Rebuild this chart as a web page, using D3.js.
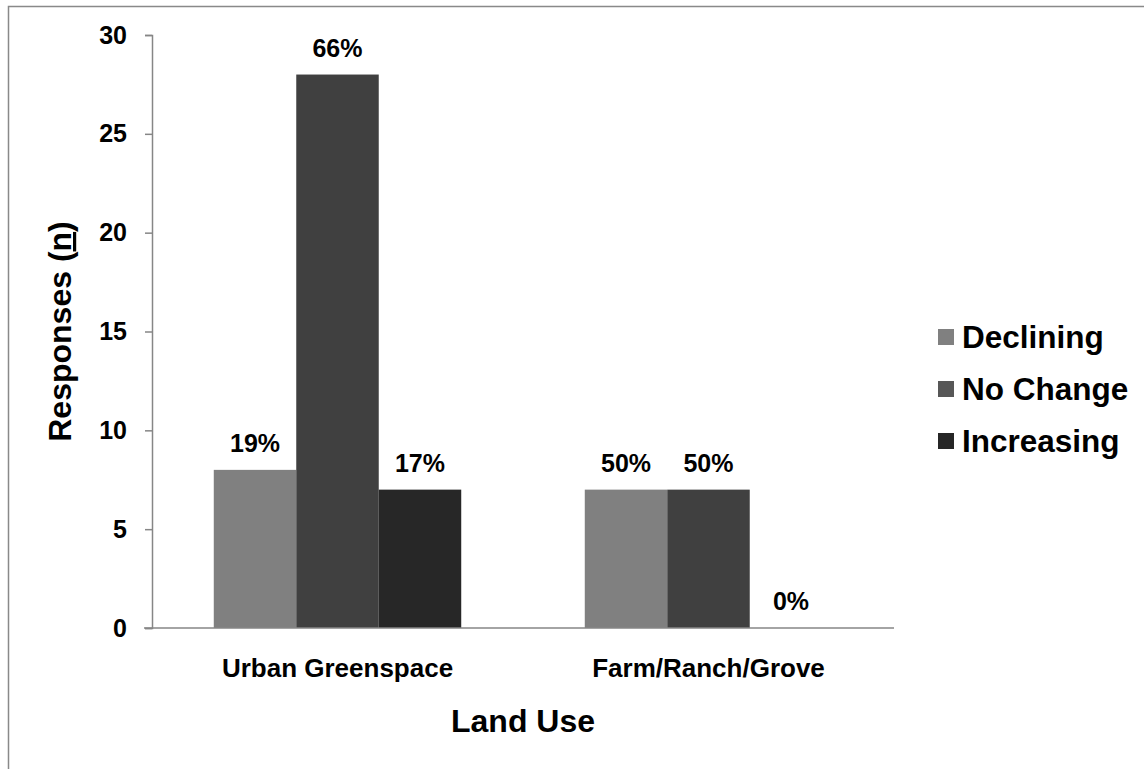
<!DOCTYPE html>
<html>
<head>
<meta charset="utf-8">
<script src="https://cdn.jsdelivr.net/npm/d3@7"></script>
<style>
  html, body { margin: 0; padding: 0; background: #fff; overflow: hidden; }
  svg { display: block; }
  text { font-family: "Liberation Sans", Arial, sans-serif; font-weight: bold; fill: #000; }
</style>
</head>
<body>
<svg id="chart" width="1144" height="769"></svg>
<script>
const categories = ["Urban Greenspace", "Farm/Ranch/Grove"];
const seriesNames = ["Declining", "No Change", "Increasing"];
const declining = [8, 7];
const noChange = [28, 7];
const increasing = [7, 0];
const decliningLabels = ["19%", "50%"];
const noChangeLabels = ["66%", "50%"];
const increasingLabels = ["17%", "0%"];
const yTicks = [0, 5, 10, 15, 20, 25, 30];
const barColors = ["#808080", "#404040", "#272727"];
const legendColors = ["#808080", "#575757", "#262626"];

const values = [declining, noChange, increasing];
const labels = [decliningLabels, noChangeLabels, increasingLabels];

const svg = d3.select("#chart");

// outer border (right & bottom off-canvas)
svg.append("rect").attr("x", 8.5).attr("y", 6.5).attr("width", 1300).attr("height", 900)
  .attr("fill", "none").attr("stroke", "#898989").attr("stroke-width", 1.5);

const plot = { left: 152, right: 894, top: 35, bottom: 628 };

const y = d3.scaleLinear().domain([0, 30]).range([plot.bottom, plot.top]);
const x0 = d3.scaleBand().domain(categories).range([plot.left, plot.right]).padding(0);
const bw = x0.bandwidth();
const x1 = d3.scaleBand().domain(seriesNames).range([bw * 0.1665, bw * 0.8335]).padding(0);
const color = d3.scaleOrdinal().domain(seriesNames).range(barColors);
const legendColor = d3.scaleOrdinal().domain(seriesNames).range(legendColors);

const data = [];
categories.forEach((c, ci) => {
  seriesNames.forEach((s, si) => {
    data.push({ cat: c, series: s, value: values[si][ci], label: labels[si][ci] });
  });
});

// bars
svg.append("g").selectAll("rect").data(data).join("rect")
  .attr("x", d => x0(d.cat) + x1(d.series))
  .attr("y", d => y(d.value))
  .attr("width", x1.bandwidth())
  .attr("height", d => y(0) - y(d.value))
  .attr("fill", d => color(d.series));

// y axis
const yAxis = svg.append("g").attr("transform", `translate(${plot.left},0)`)
  .call(d3.axisLeft(y).tickValues(yTicks).tickSize(7).tickPadding(18).tickFormat(d3.format("d")));
yAxis.select(".domain").attr("stroke", "#868686").attr("stroke-width", 1.5);
yAxis.selectAll(".tick line").attr("stroke", "#868686").attr("stroke-width", 1.5);
yAxis.selectAll(".tick text").attr("font-size", 25).attr("font-family", "Liberation Sans, Arial, sans-serif")
  .attr("font-weight", "bold").attr("fill", "#000");

// x axis
const xAxis = svg.append("g").attr("transform", `translate(0,${plot.bottom})`)
  .call(d3.axisBottom(x0).tickSize(0).tickPadding(0));
xAxis.select(".domain").attr("d", `M${plot.left - 8},0H${plot.right}`)
  .attr("stroke", "#868686").attr("stroke-width", 1.5);
xAxis.selectAll(".tick text").attr("font-size", 26).attr("font-family", "Liberation Sans, Arial, sans-serif")
  .attr("font-weight", "bold").attr("fill", "#000").attr("y", 49).attr("dy", 0);

// data labels
svg.append("g").selectAll("text").data(data).join("text")
  .attr("x", d => x0(d.cat) + x1(d.series) + x1.bandwidth() / 2)
  .attr("y", d => y(d.value) - 18)
  .attr("text-anchor", "middle")
  .attr("font-size", 25)
  .text(d => d.label);

// axis titles
svg.append("text").attr("x", (plot.left + plot.right) / 2).attr("y", 732)
  .attr("text-anchor", "middle").attr("font-size", 32).text("Land Use");

const yt = svg.append("text")
  .attr("transform", `translate(71,${(plot.top + plot.bottom) / 2}) rotate(-90)`)
  .attr("text-anchor", "middle").attr("font-size", 32);
yt.append("tspan").text("Responses (");
yt.append("tspan").style("text-decoration", "underline").text("n");
yt.append("tspan").text(")");

// legend
const legend = svg.append("g");
const legendRows = legend.selectAll("g").data(seriesNames).join("g")
  .attr("transform", (d, i) => `translate(938,${329 + i * 52})`);
legendRows.append("rect").attr("width", 16).attr("height", 16).attr("fill", d => legendColor(d));
legendRows.append("text").attr("x", 24).attr("y", 19).attr("font-size", 31.5).text(d => d);
</script>
</body>
</html>
